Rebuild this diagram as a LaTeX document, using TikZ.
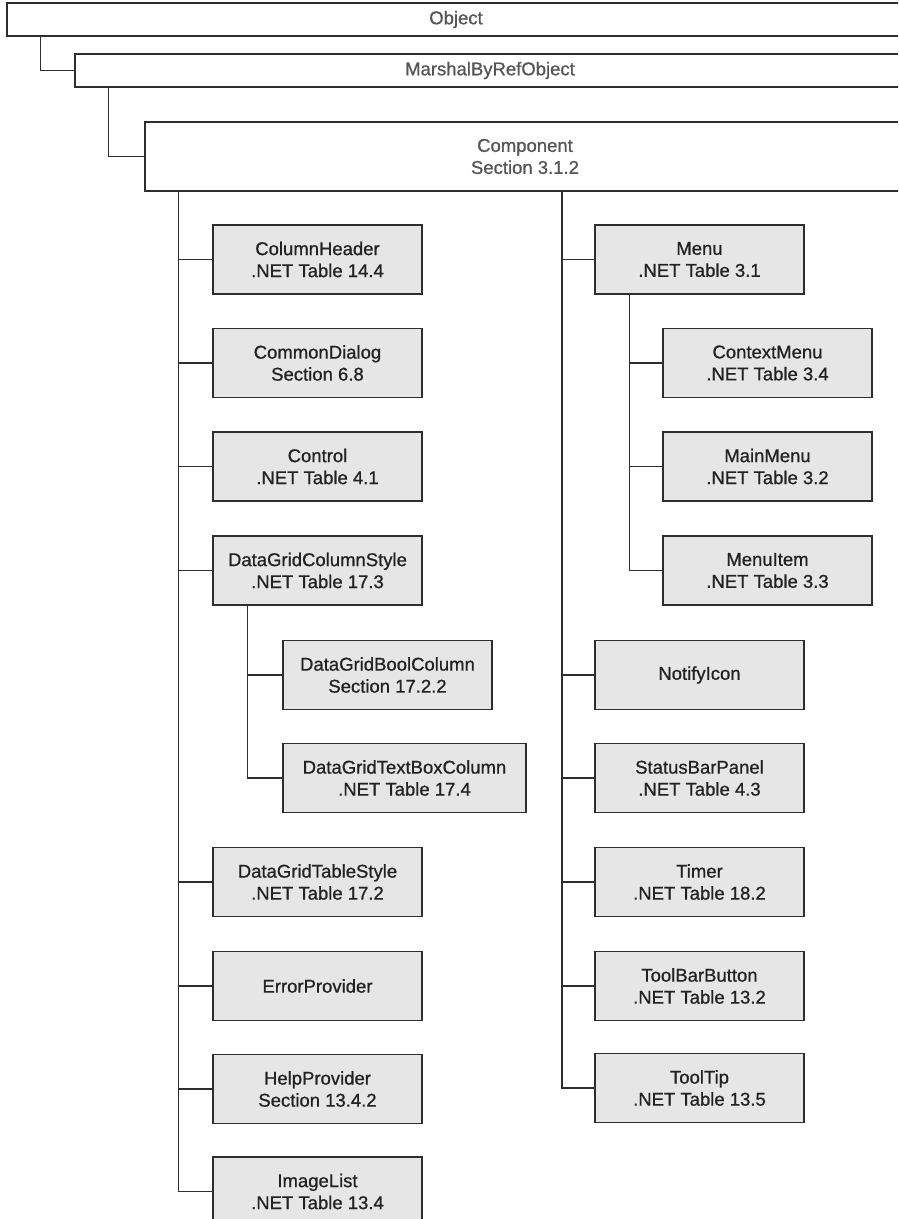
\documentclass[tikz,border=0pt]{standalone}
\usepackage{fontspec}
\setmainfont{Liberation Sans}
\newfontfamily\boxfont{Liberation Sans}[FakeBold=0.8]
\definecolor{linec}{HTML}{2E2E2E}
\definecolor{boxfill}{HTML}{E6E6E6}
\definecolor{txtc}{HTML}{222222}
\definecolor{toptxt}{HTML}{555555}
\begin{document}
\begin{tikzpicture}[x=1pt,y=-1pt,
  conn/.style={draw=linec,line width=1.1pt},
  topbox/.style={draw=linec,line width=1.2pt,fill=white,inner sep=0pt,
    font=\boxfont\fontsize{18.5}{22}\selectfont,text=toptxt,align=center},
  cbox/.style={draw=linec,line width=1.1pt,fill=boxfill,inner sep=2pt,
    minimum width=209pt,minimum height=69pt,
    font=\boxfont\fontsize{18.5}{22}\selectfont,text=txtc,align=center}]
\useasboundingbox (0,0) rectangle (898,1219);
\clip (0,0) rectangle (898,1219);
% top chain
\node[topbox,minimum width=898pt,minimum height=33pt] (obj) at (456,19.5) {Object};
\node[topbox,minimum width=830pt,minimum height=33pt] (mbr) at (490,70.5) {MarshalByRefObject};
\node[topbox,minimum width=760pt,minimum height=69pt] (comp) at (525,156.5) {Component\\Section 3.1.2};
\draw[conn] ([xshift=34pt]obj.south west) |- (mbr.west);
\draw[conn] ([xshift=34pt]mbr.south west) |- (comp.west);
% left column
\node[cbox] (colh) at (317.5,259.5) {ColumnHeader\\.NET Table 14.4};
\node[cbox] (cdlg) at (317.5,363) {CommonDialog\\Section 6.8};
\node[cbox] (ctrl) at (317.5,466.5) {Control\\.NET Table 4.1};
\node[cbox] (dgcs) at (317.5,570.5) {DataGridColumnStyle\\.NET Table 17.3};
\node[cbox] (dgbc) at (387.5,675) {DataGridBoolColumn\\Section 17.2.2};
\node[cbox,minimum width=243pt] (dgtb) at (404.5,778) {DataGridTextBoxColumn\\.NET Table 17.4};
\node[cbox] (dgts) at (317.5,882) {DataGridTableStyle\\.NET Table 17.2};
\node[cbox] (errp) at (317.5,986) {ErrorProvider};
\node[cbox] (help) at (317.5,1089) {HelpProvider\\Section 13.4.2};
\node[cbox] (imgl) at (317.5,1191.5) {ImageList\\.NET Table 13.4};
% right column
\node[cbox] (menu) at (699.5,259.5) {Menu\\.NET Table 3.1};
\node[cbox] (ctxm) at (767.5,363) {ContextMenu\\.NET Table 3.4};
\node[cbox] (mainm) at (767.5,466.5) {MainMenu\\.NET Table 3.2};
\node[cbox] (mitem) at (767.5,570.5) {MenuItem\\.NET Table 3.3};
\node[cbox] (noti) at (699.5,675) {NotifyIcon};
\node[cbox] (sbp) at (699.5,778) {StatusBarPanel\\.NET Table 4.3};
\node[cbox] (timer) at (699.5,882) {Timer\\.NET Table 18.2};
\node[cbox] (tbb) at (699.5,986) {ToolBarButton\\.NET Table 13.2};
\node[cbox] (ttip) at (699.5,1088) {ToolTip\\.NET Table 13.5};
% left trunk
\coordinate (lt) at ([xshift=34pt]comp.south west);
\draw[conn] (lt) |- (imgl.west);
\foreach \n in {colh,cdlg,ctrl,dgcs,dgts,errp,help}
  \draw[conn] (\n.west) -- (\n.west -| lt);
% DataGridColumnStyle subtree
\coordinate (st) at ([xshift=35pt]dgcs.south west);
\draw[conn] (st) |- (dgtb.west);
\draw[conn] (dgbc.west) -- (dgbc.west -| st);
% right trunk
\coordinate (rt) at (562,191);
\draw[conn] (rt) |- (ttip.west);
\foreach \n in {menu,noti,sbp,timer,tbb}
  \draw[conn] (\n.west) -- (\n.west -| rt);
% Menu subtree
\coordinate (mt) at ([xshift=35pt]menu.south west);
\draw[conn] (mt) |- (mitem.west);
\foreach \n in {ctxm,mainm}
  \draw[conn] (\n.west) -- (\n.west -| mt);
\end{tikzpicture}
\end{document}
